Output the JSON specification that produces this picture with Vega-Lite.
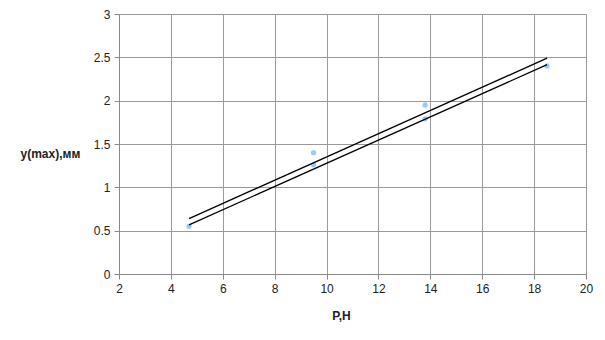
{
  "$schema": "https://vega.github.io/schema/vega-lite/v6.json",
  "width": 467,
  "height": 260,
  "autosize": "none",
  "padding": {"left": 119, "top": 14, "right": 19, "bottom": 66},
  "background": "white",
  "config": {"view": {"stroke": null}, "font": "Liberation Sans"},
  "datasets": {
    "points": [
      {"P": 4.7, "y": 0.55},
      {"P": 9.5, "y": 1.4},
      {"P": 9.5, "y": 1.26},
      {"P": 13.8, "y": 1.95},
      {"P": 13.8, "y": 1.79},
      {"P": 18.5, "y": 2.4}
    ],
    "lines": [
      {"series": "upper", "P": 4.7, "y": 0.64},
      {"series": "upper", "P": 18.5, "y": 2.49},
      {"series": "lower", "P": 4.7, "y": 0.567},
      {"series": "lower", "P": 18.5, "y": 2.416}
    ]
  },
  "layer": [
    {
      "data": {"name": "points"},
      "mark": {"type": "point", "filled": true, "color": "#9ccbf7", "opacity": 1, "size": 28},
      "encoding": {
        "x": {
          "field": "P", "type": "quantitative",
          "scale": {"domain": [2, 20], "nice": false, "zero": false},
          "axis": {
            "values": [2,3,4,5,6,7,8,9,10,11,12,13,14,15,16,17,18,19,20],
            "labelExpr": "datum.value % 2 === 0 ? format(datum.value, '~g') : ''",
            "labelFlush": false,
            "grid": true,
            "gridColor": {"condition": {"test": "datum.value % 2 === 0", "value": "#9a9a9a"}, "value": "#c6c6c6"},
            "gridWidth": 1,
            "tickSize": {"condition": {"test": "datum.value % 2 === 0", "value": 5}, "value": 0},
            "tickColor": "#888888",
            "domainColor": "#888888",
            "labelFontSize": 12,
            "labelColor": "#222222",
            "labelPadding": 4,
            "title": "P,H",
            "titleFontSize": 12,
            "titleFontWeight": "bold",
            "titleColor": "#222222",
            "titleX": 222,
            "titleY": 36,
            "titleAnchor": null
          }
        },
        "y": {
          "field": "y", "type": "quantitative",
          "scale": {"domain": [0, 3], "nice": false},
          "axis": {
            "values": [0,0.25,0.5,0.75,1,1.25,1.5,1.75,2,2.25,2.5,2.75,3],
            "labelExpr": "datum.value * 2 === floor(datum.value * 2) ? format(datum.value, '~g') : ''",
            "labelFlush": false,
            "grid": true,
            "gridColor": {"condition": {"test": "datum.value * 2 === floor(datum.value * 2)", "value": "#9a9a9a"}, "value": "#c6c6c6"},
            "gridWidth": 1,
            "tickSize": {"condition": {"test": "datum.value * 2 === floor(datum.value * 2)", "value": 5}, "value": 0},
            "tickColor": "#888888",
            "domainColor": "#888888",
            "labelFontSize": 12,
            "labelColor": "#222222",
            "labelPadding": 4,
            "title": "y(max),мм",
            "titleAngle": 0,
            "titleFontSize": 12,
            "titleFontWeight": "bold",
            "titleColor": "#222222",
            "titleAlign": "left",
            "titleBaseline": "middle",
            "titleX": -99,
            "titleY": 139
          }
        }
      }
    },
    {
      "data": {"name": "lines"},
      "mark": {"type": "line", "color": "#000000", "strokeWidth": 1.3},
      "encoding": {
        "x": {"field": "P", "type": "quantitative"},
        "y": {"field": "y", "type": "quantitative"},
        "detail": {"field": "series"}
      }
    }
  ]
}
